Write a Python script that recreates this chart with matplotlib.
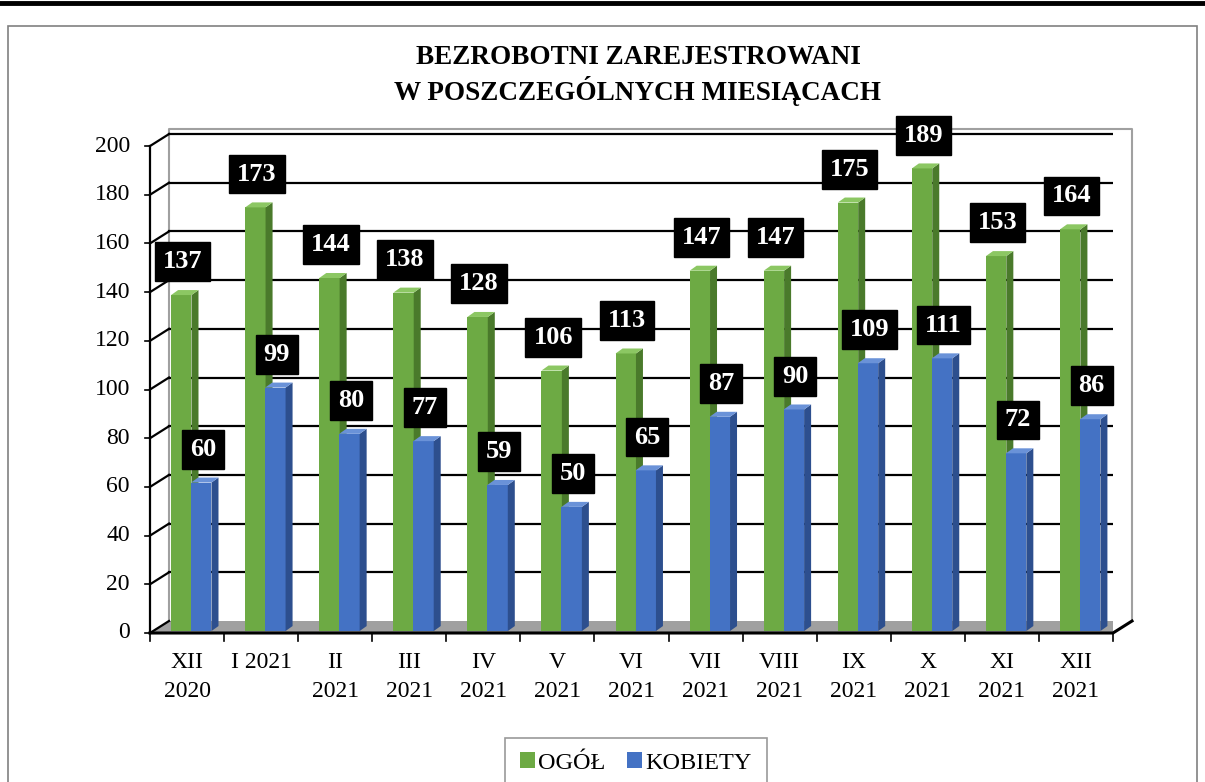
import matplotlib
matplotlib.use("Agg")
import matplotlib.pyplot as plt
from matplotlib.patches import Polygon, Rectangle, Patch
from matplotlib.lines import Line2D

plt.rcParams['font.family'] = ['Liberation Serif', 'DejaVu Serif']

# data
months = ['XII\n2020', 'I 2021', 'II\n2021', 'III\n2021', 'IV\n2021', 'V\n2021', 'VI\n2021',
          'VII\n2021', 'VIII\n2021', 'IX\n2021', 'X\n2021', 'XI\n2021', 'XII\n2021']
ogol = [137, 173, 144, 138, 128, 106, 113, 147, 147, 175, 189, 153, 164]
kobiety = [60, 99, 80, 77, 59, 50, 65, 87, 90, 109, 111, 72, 86]
series_names = ['OGÓŁ', 'KOBIETY']

green = ('#6DAA44', '#4A7A2B', '#8CC763')   # front, side, top
blue = ('#4472C4', '#2D4F8E', '#6A92D8')

W, H = 1205, 782
fig = plt.figure(figsize=(W / 100, H / 100), dpi=100)

# page decorations: top rule and frame
fig.add_artist(Line2D([0, 1], [1 - 2.5 / H, 1 - 2.5 / H], color='black', lw=3.5, transform=fig.transFigure))
fig.add_artist(Rectangle((8 / W, -0.05), (1197 - 8) / W, (H - 26) / H + 0.05, transform=fig.transFigure,
                         fill=False, edgecolor='#808080', lw=1.2))

n = len(months)
ymax = 207.0
ax = fig.add_axes([150 / W, (H - 633) / H, 963 / W, 504 / H])
ax.set_xlim(0, n)
ax.set_ylim(0, ymax)
for s in ax.spines.values():
    s.set_visible(False)
ax.set_xticks([])
ax.set_yticks([])
ax.patch.set_visible(False)

dx = 19 / 74          # depth offset in category units
dy = 12 / 2.435       # depth offset in value units

# floor
ax.add_patch(Polygon([(0, 0), (n, 0), (n + dx, dy), (dx, dy)], closed=True,
                     facecolor='#A0A0A0', edgecolor='none', zorder=1))
# back wall edges
ax.plot([dx, dx, n + dx, n + dx], [dy, ymax, ymax, dy], color='#A0A0A0', lw=1.5, zorder=1, clip_on=False)
# gridlines on back wall and left wall
yticks = list(range(0, 201, 20))
for v in yticks:
    if v > 0:
        ax.plot([dx, n + dx], [v + dy, v + dy], color='black', lw=1.6, zorder=2)
    ax.plot([0, dx], [v, v + dy], color='black', lw=1.6, zorder=2, clip_on=False)
    ax.plot([-0.07, 0], [v, v], color='black', lw=1.2, zorder=2, clip_on=False)
    ax.text(-0.27, v, str(v), ha='right', va='center', fontsize=17, zorder=5)
# front axes
ax.plot([0, 0], [0, 200], color='black', lw=1.6, zorder=6, clip_on=False)
ax.plot([0, n, n + dx], [0, 0, dy], color='black', lw=2.2, zorder=6, clip_on=False)
for k in range(n + 1):
    ax.plot([k, k], [0, -3.3], color='black', lw=1.2, zorder=6, clip_on=False)
for i, lab in enumerate(months):
    ax.text(i + 0.5, -8, lab, ha='center', va='top', fontsize=17, linespacing=1.45)

sdx = 7 / 74
sdy = 5 / 2.435
base = 0.8
lift = 1.8   # bars sit a little behind the front plane


def bar3d(x0, w, v, cols):
    front, side, top = cols
    h = v + lift
    ax.add_patch(Rectangle((x0, base), w, h - base, facecolor=front, edgecolor='none', zorder=3))
    ax.add_patch(Polygon([(x0 + w, base), (x0 + w + sdx, base + sdy), (x0 + w + sdx, h + sdy), (x0 + w, h)],
                         closed=True, facecolor=side, edgecolor='none', zorder=3))
    ax.add_patch(Polygon([(x0, h), (x0 + w, h), (x0 + w + sdx, h + sdy), (x0 + sdx, h + sdy)],
                         closed=True, facecolor=top, edgecolor='none', zorder=3))


for i in range(n):
    gx, bx, bw = i + 0.285, i + 0.555, 0.275
    bar3d(gx, bw, ogol[i], green)
    bar3d(bx, bw, kobiety[i], blue)
    for x0, v in ((gx, ogol[i]), (bx, kobiety[i])):
        ax.text(x0 + bw / 2 + 0.02, v + 15.5, str(v), ha='center', va='center', color='white',
                fontsize=19, fontweight='bold', zorder=7, clip_on=False,
                bbox=dict(boxstyle='square,pad=0.3', facecolor='black', edgecolor='black'))

fig.text(638 / W, 1 - 75 / H, 'BEZROBOTNI ZAREJESTROWANI\nW POSZCZEGÓLNYCH MIESIĄCACH',
         ha='center', va='center', fontsize=19.5, fontweight='bold', linespacing=1.25)

handles = [Patch(facecolor=green[0]), Patch(facecolor=blue[0])]
leg = fig.legend(handles, series_names, loc='center', bbox_to_anchor=(636 / W, 1 - 763 / H),
                 ncol=2, fontsize=17.5, frameon=True, fancybox=False, edgecolor='#808080',
                 handlelength=0.6, handleheight=0.6, handletextpad=0.15, columnspacing=0.9,
                 borderpad=0.6, borderaxespad=0)
leg.get_frame().set_linewidth(1.2)

fig.savefig('out.png', dpi=100)
